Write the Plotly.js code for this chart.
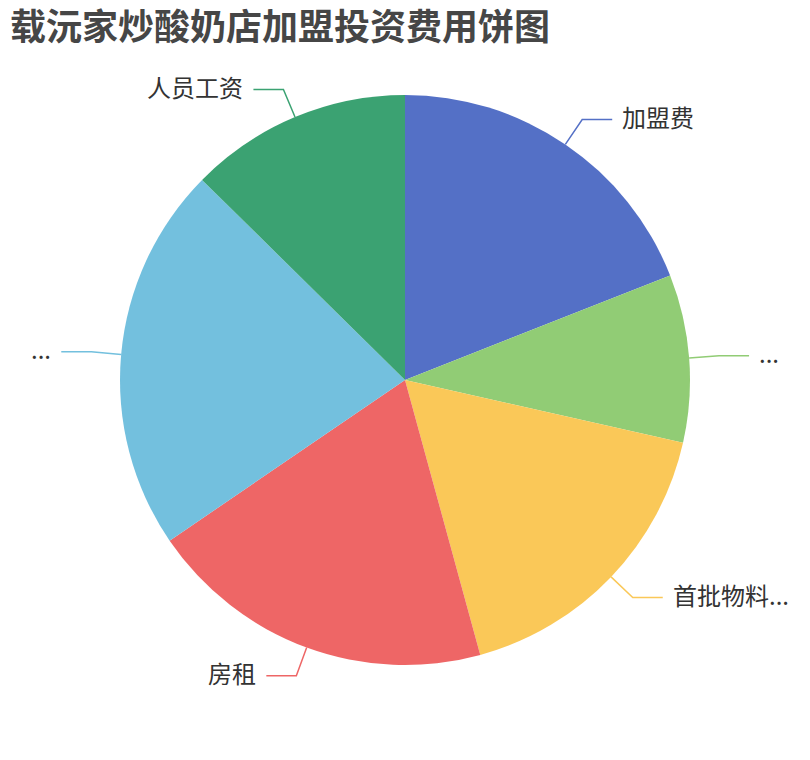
<!DOCTYPE html>
<html>
<head>
<meta charset="utf-8">
<script src="https://cdn.plot.ly/plotly-3.0.1.min.js"></script>
<style>
  html, body { margin: 0; padding: 0; background: #fff; }
  #chart { width: 810px; height: 760px; }
</style>
</head>
<body>
<div id="chart"></div>
<script>
// ----- data -----
const categories = ['加盟费', '装修设计费', '首批物料及设备', '房租', '设备采购费', '人员工资'];
const labelText  = ['加盟费', '...', '首批物料...', '房租', '...', '人员工资'];
const values     = [19.0, 9.5, 17.2, 19.7, 21.9, 12.6];
const colors     = ['#5470c6', '#91cc75', '#fac858', '#ee6666', '#73c0de', '#3ba272'];

// ----- layout geometry (pixels) -----
const W = 810, H = 760;
const cx = 405, cy = 380, R = 285;
const len1 = 30, len2 = 30, gap = 8;
const px = x => x / W;
const py = y => 1 - y / H;

// leader lines + labels, placed at each slice's mid angle
const total = values.reduce((a, b) => a + b, 0);
const shapes = [], annotations = [];
let cum = 0;
values.forEach((v, i) => {
    const mid = (cum + v / 2) / total * 2 * Math.PI;
    cum += v;
    const s = Math.sin(mid), c = Math.cos(mid);
    const x0 = cx + R * s, y0 = cy - R * c;
    const x1 = cx + (R + len1) * s, y1 = cy - (R + len1) * c;
    const right = s >= 0;
    const x2 = x1 + (right ? len2 : -len2);
    shapes.push({
        type: 'path', xref: 'paper', yref: 'paper',
        path: `M ${px(x0)},${py(y0)} L ${px(x1)},${py(y1)} L ${px(x2)},${py(y1)}`,
        line: { color: colors[i], width: 1.5 },
    });
    annotations.push({
        xref: 'paper', yref: 'paper', showarrow: false,
        x: px(x2 + (right ? gap : -gap)), y: py(y1), yshift: 3,
        xanchor: right ? 'left' : 'right', yanchor: 'middle',
        text: labelText[i],
        font: { family: '"Noto Sans CJK SC", "Noto Sans", sans-serif', size: 24, color: '#333333' },
    });
});

Plotly.newPlot('chart', [{
    type: 'pie',
    labels: categories, values: values,
    sort: false, direction: 'clockwise', rotation: 0,
    textinfo: 'none',
    marker: { colors: colors, line: { width: 0 } },
    domain: { x: [px(cx - R), px(cx + R)], y: [py(cy + R), py(cy - R)] },
    hovertemplate: '%{label}<br>%{value} (%{percent})<extra></extra>',
}], {
    width: W, height: H,
    margin: { l: 0, r: 0, t: 0, b: 0 },
    paper_bgcolor: '#ffffff',
    showlegend: false,
    title: {
        text: '载沅家炒酸奶店加盟投资费用饼图',
        x: 10 / W, xanchor: 'left', xref: 'paper',
        y: 1 - 27 / H, yanchor: 'middle', yref: 'container',
        font: { family: '"Noto Sans CJK SC", sans-serif', size: 36, weight: 'bold', color: '#464646' },
    },
    shapes: shapes,
    annotations: annotations,
}, { displayModeBar: false });
</script>
</body>
</html>
